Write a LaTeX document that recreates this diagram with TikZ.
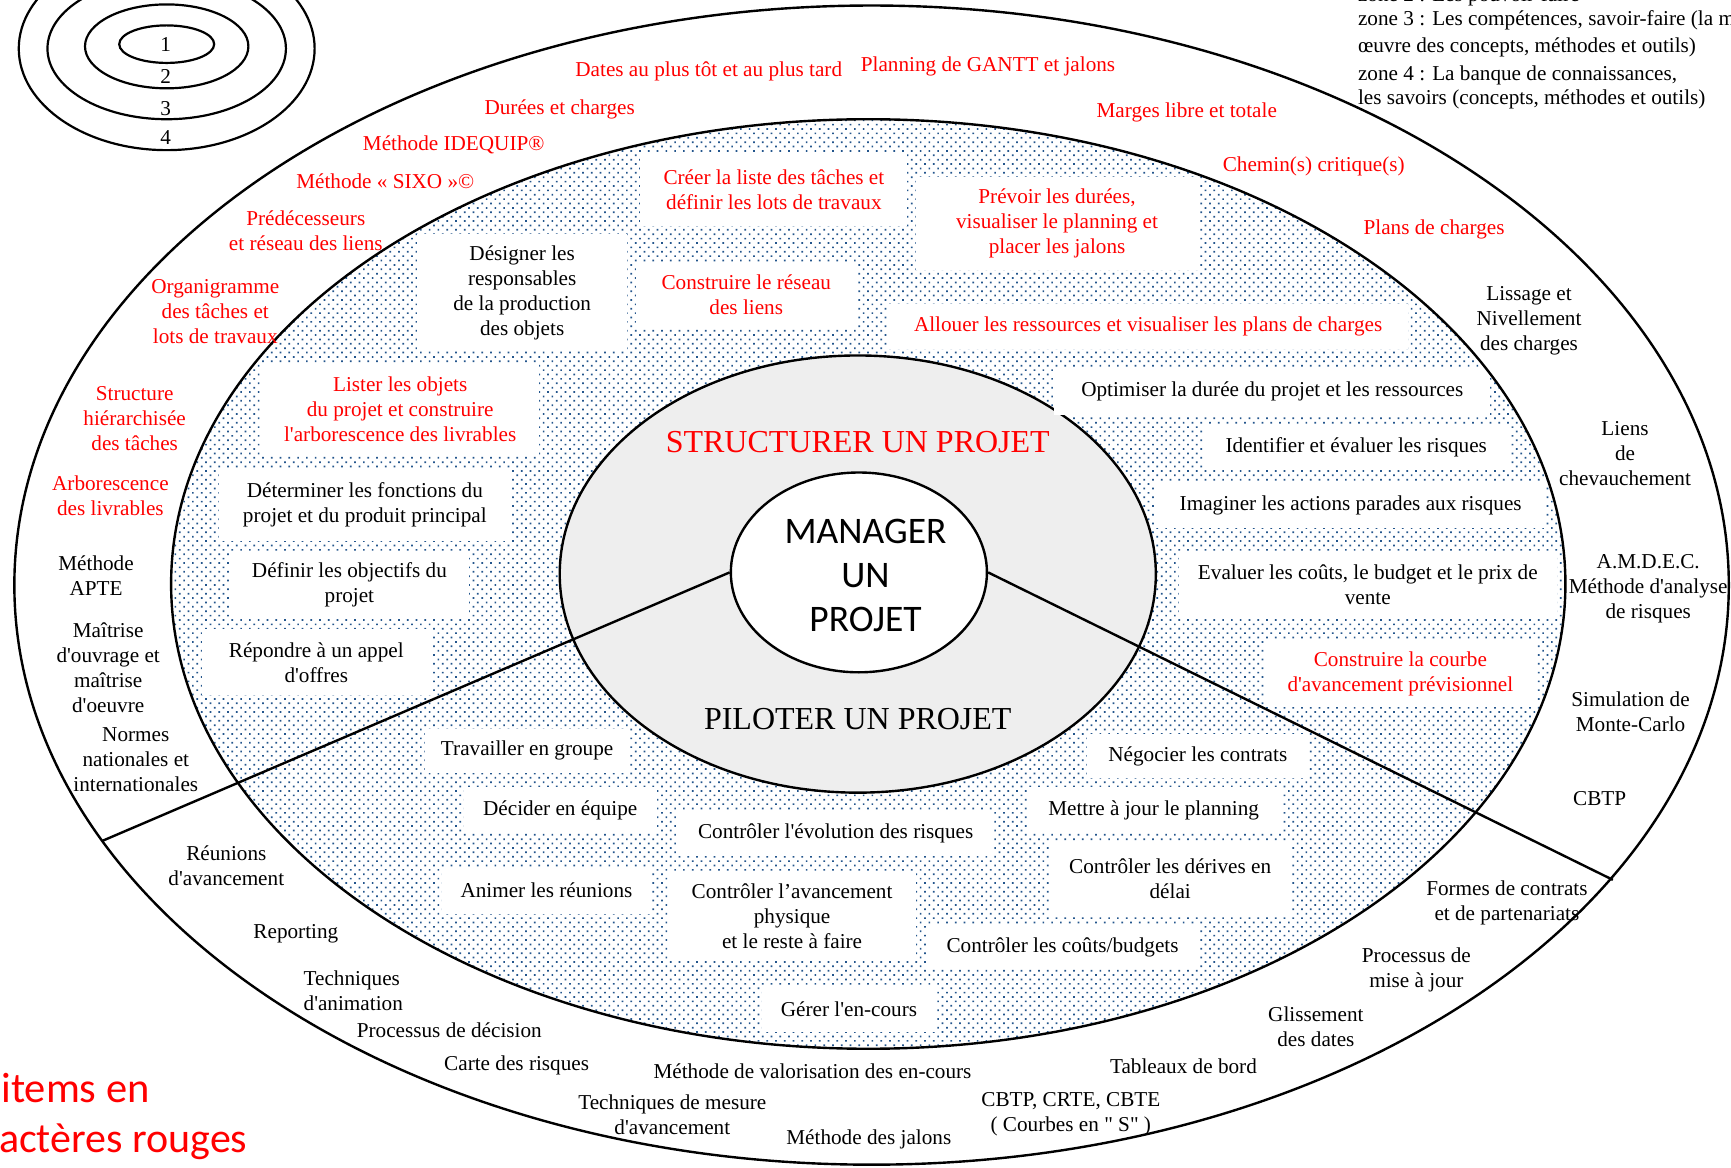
\documentclass[tikz,border=0pt]{standalone}
\usepackage{fontspec}
\setmainfont{Liberation Serif}[Ligatures=TeXOff]
\newfontfamily\calibri{Carlito}
\usetikzlibrary{patterns.meta,calc,shapes.geometric}

\definecolor{rouge}{RGB}{255,0,0}
\definecolor{points}{RGB}{35,85,140}
\definecolor{gris}{RGB}{238,238,238}

\tikzset{
  trait/.style={line width=2.4pt},
  lbl/.style={font=\fontsize{21.2}{25}\selectfont, align=center, inner sep=0pt},
  rge/.style={lbl, text=rouge},
  titre/.style={font=\fontsize{32}{38}\selectfont, inner sep=0pt},
}

% boite blanche dans la zone 3 : [style]{nom}{x1}{y1}{x2}{y2}{texte}
\newcommand\boite[7][]{%
  \fill[white] (#3,#4) rectangle (#5,#6);
  \node[lbl,#1] (#2) at ($(#3,#4)!0.5!(#5,#6)$) {#7};}

\begin{document}
\begin{tikzpicture}[x=1.104pt, y=-1.104pt]
\useasboundingbox (0,0) rectangle (1568,1058);

% legende des zones
\foreach \rx/\ry/\cy in {43/17/40, 74/38/42, 108/64/44, 134/92/44}
  \draw[line width=2.2pt] (151,\cy) ellipse [x radius=\rx, y radius=\ry];
\foreach \n/\y in {1/40, 2/69, 3/98, 4/125}
  \node[lbl] (z\n) at (150,\y) {\n};

% zone 4
\draw[trait] (789.5,530) ellipse [x radius=776.5, y radius=525];
% zone 3
\path[pattern={Dots[distance=6.2pt, radius=1.2pt, angle=45]}, pattern color=points]
  (786.5,529) ellipse [x radius=631.5, y radius=421];
% zone 2
\filldraw[trait, fill=gris] (777,520) ellipse [x radius=270, y radius=198];

\begin{scope}
\clip (786.5,529) ellipse [x radius=631.5, y radius=421];
% structurer
\boite[rge]{creer}{580}{138}{822}{205}{Créer la liste des tâches et\\définir les lots de travaux}
\boite[rge]{prevoir}{830}{160}{1085}{245}{Prévoir les durées,\\visualiser le planning et\\placer les jalons}
\boite{designer}{378}{212}{568}{318}{Désigner les\\responsables\\de la production\\des objets}
\boite[rge]{reseau}{576}{237}{776}{297}{Construire le réseau\\des liens}
\boite[rge]{allouer}{805}{275}{1275}{316}{Allouer les ressources et visualiser les plans de charges}
\boite[rge]{lister}{237}{330}{488}{412}{Lister les objets\\du projet et construire\\l'arborescence des livrables}
\boite{optimiser}{955}{333}{1350}{376}{Optimiser la durée du projet et les ressources}
\boite{identifier}{1090}{385}{1367}{425}{Identifier et évaluer les risques}
\boite{fonctions}{198}{425}{463}{490}{Déterminer les fonctions du\\projet et du produit principal}
\boite{imaginer}{1047}{437}{1400}{478}{Imaginer les actions parades aux risques}
\boite{objectifs}{208}{500}{425}{560}{Définir les objectifs du\\projet}
\boite{evaluer}{1068}{500}{1410}{560}{Evaluer les coûts, le budget et le prix de\\vente}
\boite{repondre}{183}{570}{390}{630}{Répondre à un appel\\d'offres}
\boite[rge]{courbe}{1145}{580}{1392}{640}{Construire la courbe\\d'avancement prévisionnel}
% piloter
\boite{groupe}{385}{660}{570}{700}{Travailler en groupe}
\boite{negocier}{985}{665}{1185}{705}{Négocier les contrats}
\boite{decider}{420}{713}{595}{755}{Décider en équipe}
\boite{evolution}{614}{735}{900}{775}{Contrôler l'évolution des risques}
\boite{majplanning}{930}{713}{1160}{755}{Mettre à jour le planning}
\boite{animer}{400}{785}{590}{828}{Animer les réunions}
\boite{avancement}{605}{790}{830}{870}{Contrôler l’avancement\\physique\\et le reste à faire}
\boite{derives}{950}{762}{1170}{830}{Contrôler les dérives en\\délai}
\boite{couts}{840}{838}{1085}{878}{Contrôler les coûts/budgets}
\boite{encours}{690}{893}{848}{935}{Gérer l'en-cours}
\end{scope}
\draw[trait] (786.5,529) ellipse [x radius=631.5, y radius=421];

% zone 1
\node[ellipse, draw, trait, fill=white, inner sep=0pt,
  minimum width=256.1pt, minimum height=199.8pt] (centre) at (778,518.5) {};
\node[font=\calibri\fontsize{37.5}{44}\selectfont, align=center, inner sep=0pt] (manager) at (784,521) {MANAGER\\UN\\PROJET};
\coordinate (gauche) at (92,762);
\coordinate (droite) at (1461,797);
\draw[trait] (centre.west) -- (gauche);
\draw[trait] (centre.east) -- (droite);

\node[titre, text=rouge] (structurer) at (777,400) {STRUCTURER UN PROJET};
\node[titre] (piloter) at (777,651) {PILOTER UN PROJET};

% zone 4, en rouge
\node[rge] (dates) at (642,65) {Dates au plus tôt et au plus tard};
\node[rge] (gantt) at (895,60) {Planning de GANTT et jalons};
\node[rge] (durees) at (507,99) {Durées et charges};
\node[rge] (marges) at (1075,102) {Marges libre et totale};
\node[rge] (idequip) at (411,131) {Méthode IDEQUIP®};
\node[rge] (chemin) at (1190,151) {Chemin(s) critique(s)};
\node[rge] (sixo) at (349,164) {Méthode « SIXO »©};
\node[rge] (preds) at (277,209) {Prédécesseurs\\et réseau des liens};
\node[rge] (plans) at (1299,208) {Plans de charges};
\node[rge] (organi) at (195,282) {Organigramme\\des tâches et\\lots de travaux};
\node[rge] (hierarchie) at (122,379) {Structure\\hiérarchisée\\des tâches};
\node[rge] (arbo) at (100,449) {Arborescence\\des livrables};

% zone 4, en noir
\node[lbl] (lissage) at (1385,291) {Lissage et\\Nivellement\\des charges};
\node[lbl] (liens) at (1472,411) {Liens\\de\\chevauchement};
\node[lbl] (amdec) at (1493,533) {A.M.D.E.C.\\Méthode d'analyse\\de risques};
\node[lbl] (montecarlo) at (1477,645) {Simulation de\\Monte-Carlo};
\node[lbl] (cbtp) at (1449,723) {CBTP};
\node[lbl] (contrats) at (1365,818) {Formes de contrats\\et de partenariats};
\node[lbl] (majour) at (1283,879) {Processus de\\mise à jour};
\node[lbl] (glisse) at (1192,930) {Glissement\\des dates};
\node[lbl] (tableaux) at (1072,966) {Tableaux de bord};
\node[lbl] (courbes) at (970,1009) {CBTP, CRTE, CBTE\\( Courbes en " S" )};
\node[lbl] (jalons) at (787,1032) {Méthode des jalons};
\node[lbl] (valo) at (736,970) {Méthode de valorisation des en-cours};
\node[lbl] (mesure) at (609,1010) {Techniques de mesure\\d'avancement};
\node[lbl] (carte) at (468,965) {Carte des risques};
\node[lbl] (decision) at (407,933) {Processus de décision};
\node[lbl, align=left] (animation) at (320,897) {Techniques\\d'animation};
\node[lbl] (reporting) at (268,846) {Reporting};
\node[lbl] (reunions) at (205,784) {Réunions\\d'avancement};
\node[lbl] (normes) at (123,688) {Normes\\nationales et\\internationales};
\node[lbl] (maitrise) at (98,605) {Maîtrise\\d'ouvrage et\\maîtrise\\d'oeuvre};
\node[lbl] (apte) at (87,521) {Méthode\\APTE};

% legende
\node[lbl, anchor=base west] (leg2) at (1230,1.5) {zone 2 : Les pouvoir-faire};
\node[lbl, anchor=base west] (leg3) at (1230,23.5) {zone 3 : Les compétences, savoir-faire (la m};
\node[lbl, anchor=base west] (leg3b) at (1230,48) {œuvre des concepts, méthodes et outils)};
\node[lbl, anchor=base west] (leg4) at (1230,73) {zone 4 : La banque de connaissances,};
\node[lbl, anchor=base west] (leg4b) at (1230,95) {les savoirs (concepts, méthodes et outils)};

\node[font=\calibri\fontsize{42.5}{50}\selectfont, text=rouge, anchor=base west, inner sep=0pt] (items) at (1,999) {items en};
\node[font=\calibri\fontsize{42}{50}\selectfont, text=rouge, anchor=base west, inner sep=0pt] (rouges) at (-1,1044) {actères rouges};
\end{tikzpicture}
\end{document}
